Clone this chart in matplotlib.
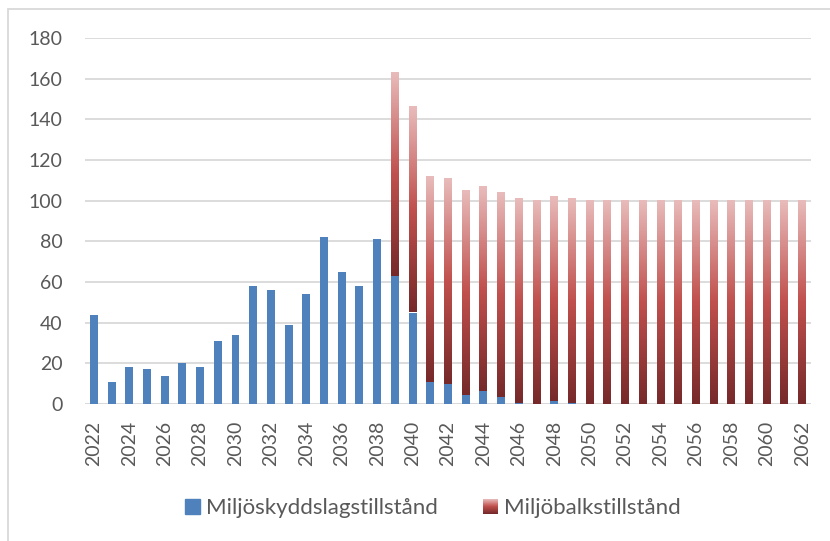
import matplotlib
matplotlib.use('Agg')
import matplotlib.pyplot as plt
import numpy as np
from matplotlib.colors import LinearSegmentedColormap
from matplotlib.legend_handler import HandlerBase
from matplotlib.patches import Rectangle

years = list(range(2022, 2063))
miljoskydd = [44, 11, 18, 17, 14, 20, 18, 31, 34, 58,
              56, 39, 54, 82, 65, 58, 81, 63, 45, 11,
              10, 4.5, 6.5, 3.5, 0.5, 0, 1.5, 0.3] + [0] * 13
miljobalk = [0] * 17 + [100, 101, 101, 101, 100.5, 100.5, 100.5, 100.5, 100, 100.5, 100.7] + [100] * 13

blue = '#4f81bd'
txt = '#595959'
grid = '#d9d9d9'
red_grad = LinearSegmentedColormap.from_list('rg', [(0, '#76292a'), (0.5, '#c0504d'), (1, '#e8bcbb')])

plt.rcParams['font.family'] = ['Lato', 'DejaVu Sans']

fig = plt.figure(figsize=(8.3, 5.41), dpi=100)
ax = fig.add_axes([85/830, 1-404/541, (811-85)/830, (404-38)/541])

x = np.arange(len(years))
w = 0.45
ax.bar(x, miljoskydd, width=w, color=blue, zorder=2)

# gradient fill for the stacked part
grad = np.linspace(0, 1, 256).reshape(-1, 1)
for i in x:
    if miljobalk[i] <= 0:
        continue
    y0 = miljoskydd[i]
    y1 = y0 + miljobalk[i]
    ax.imshow(grad, extent=[i - w/2, i + w/2, y0, y1], origin='lower',
              aspect='auto', cmap=red_grad, zorder=2, interpolation='bilinear')

ax.set_xlim(-0.5, len(years) - 0.5)
ax.set_ylim(0, 180)
ax.set_yticks(range(0, 181, 20))
ax.yaxis.grid(True, color=grid, lw=1.3)
ax.set_axisbelow(True)
for s in ax.spines.values():
    s.set_visible(False)
ax.axhline(0, color=grid, lw=1.3, zorder=1)

ax.set_xticks(x[::2])
ax.set_xticklabels([str(y) for y in years[::2]], rotation=90)
ax.tick_params(axis='x', length=0, pad=12, labelsize=14, labelcolor=txt)
ax.tick_params(axis='y', length=0, pad=16, labelsize=14, labelcolor=txt)


class GradHandler(HandlerBase):
    def create_artists(self, legend, orig, xd, yd, width, height, fontsize, trans):
        n = 30
        out = []
        for k in range(n):
            r = Rectangle((-xd, -yd + height * k / n), width, height / n * 1.05,
                          facecolor=red_grad(k / (n - 1)), edgecolor='none', transform=trans)
            out.append(r)
        return out


h1 = Rectangle((0, 0), 1, 1, color=blue)
h2 = Rectangle((0, 0), 1, 1, color='#c0504d')
leg = fig.legend([h1, h2], ['Miljöskyddslagstillstånd', 'Miljöbalkstillstånd'],
                 loc='center', bbox_to_anchor=(433/830, 1-508/541), ncol=2, frameon=False,
                 fontsize=16, handlelength=0.68, handleheight=0.68, handletextpad=0.27,
                 columnspacing=2.0, handler_map={h2: GradHandler()})
for t in leg.get_texts():
    t.set_color(txt)

fig.patches.append(Rectangle((8/830, -0.1), 1.0, 1 - 9/541 + 0.1, transform=fig.transFigure,
                             fill=False, edgecolor=grid, lw=1.3))

fig.savefig('out.png', dpi=100)
